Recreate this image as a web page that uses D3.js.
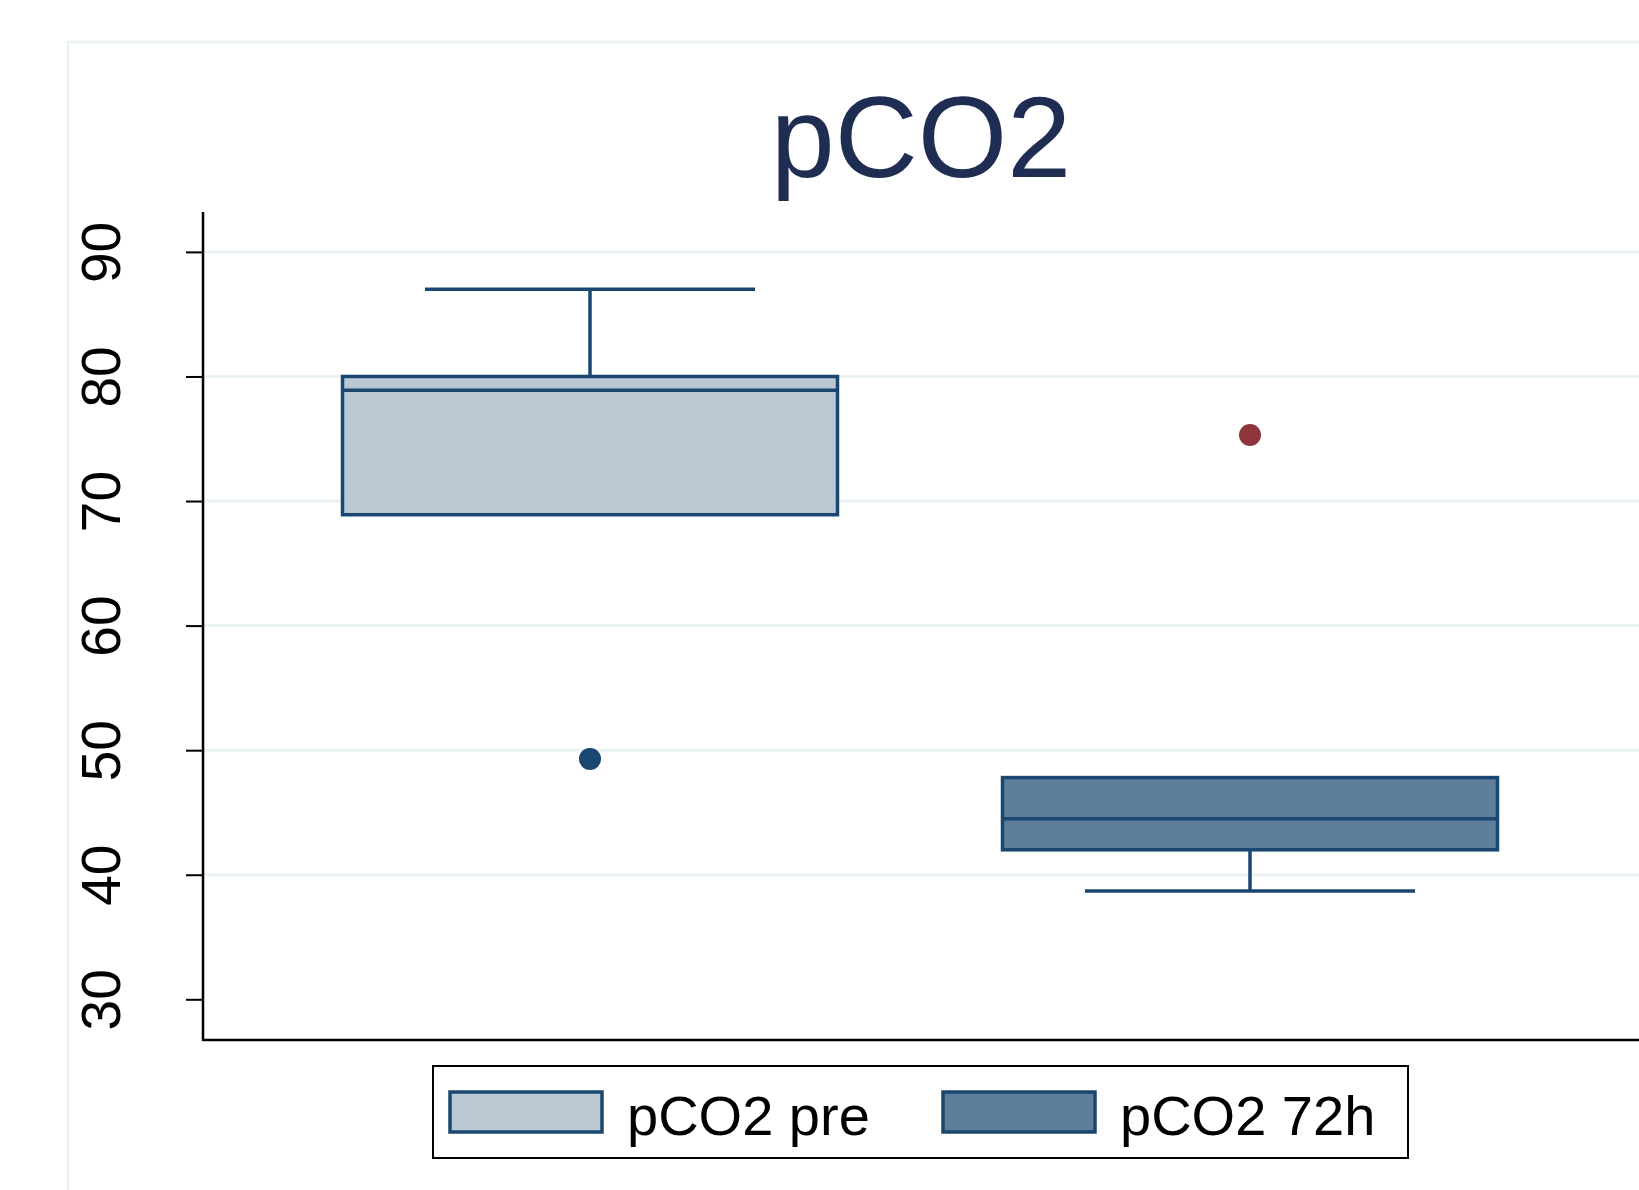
<!DOCTYPE html>
<html>
<head>
<meta charset="utf-8">
<script src="https://cdn.jsdelivr.net/npm/d3@7"></script>
<style>
  body { margin: 0; background: #fff; }
  svg { display: block; font-family: "Liberation Sans", Arial, sans-serif; }
</style>
</head>
<body>
<svg id="chart"></svg>
<script>
// box plot data
var groups = ["pCO2 pre", "pCO2 72h"];
var whiskerLow = [69, 38.7];
var q1 = [68.9, 42.0];
var median = [78.9, 44.5];
var q3 = [80.0, 47.8];
var whiskerHigh = [87.0, 47.8];
var outliers = [49.3, 75.3];

var yTicks = [30, 40, 50, 60, 70, 80, 90];
var gridTicks = [40, 50, 60, 70, 80, 90];

var boxFill = ["#b9c8d3", "#5f7e99"];
var outlierColor = ["#1a476f", "#90353b"];
var navy = "#1a476f";

var width = 1639,
    height = 1190;

var svg = d3.select("#chart")
  .attr("width", width)
  .attr("height", height);

// outer region border (light)
svg.append("path")
  .attr("d", "M68," + height + " V42 H" + width)
  .attr("fill", "none")
  .attr("stroke", "#eaf2f3")
  .attr("stroke-width", 2.5);

var plot = { left: 203, right: width, top: 212, bottom: 1040 };

var y = d3.scaleLinear()
  .domain([30, 90])
  .range([999.3, 251.9]);

var x = d3.scaleBand()
  .domain(groups)
  .range([260, 1580])
  .paddingInner(0.25)
  .paddingOuter(0.125);

// gridlines
svg.append("g")
    .attr("class", "grid")
  .selectAll("line")
  .data(gridTicks)
  .enter().append("line")
    .attr("x1", plot.left)
    .attr("x2", plot.right)
    .attr("y1", function(d) { return y(d); })
    .attr("y2", function(d) { return y(d); })
    .attr("stroke", "#eaf2f3")
    .attr("stroke-width", 3);

// title
svg.append("text")
  .attr("x", 921)
  .attr("y", 177)
  .attr("text-anchor", "middle")
  .attr("font-size", 115)
  .attr("fill", "#1f2d52")
  .text("pCO2");

// y axis
var yAxis = d3.axisLeft(y)
  .tickValues(yTicks)
  .tickSize(17)
  .tickFormat(d3.format("d"));

var gy = svg.append("g")
  .attr("transform", "translate(" + plot.left + ",0)")
  .call(yAxis);

gy.select(".domain").remove();
gy.selectAll(".tick line")
  .attr("stroke", "#000")
  .attr("stroke-width", 2);
gy.selectAll(".tick text")
  .attr("x", null)
  .attr("dy", null)
  .attr("transform", "translate(-83,0) rotate(-90)")
  .attr("text-anchor", "middle")
  .attr("font-size", 55)
  .attr("fill", "#000");

svg.append("line")
  .attr("x1", plot.left).attr("x2", plot.left)
  .attr("y1", plot.top).attr("y2", plot.bottom + 1)
  .attr("stroke", "#000")
  .attr("stroke-width", 2.5);

svg.append("line")
  .attr("x1", plot.left).attr("x2", plot.right)
  .attr("y1", plot.bottom).attr("y2", plot.bottom)
  .attr("stroke", "#000")
  .attr("stroke-width", 2.5);

// boxes
var boxes = groups.map(function(g, i) {
  return { name: g, lo: whiskerLow[i], q1: q1[i], med: median[i], q3: q3[i], hi: whiskerHigh[i],
           out: outliers[i], fill: boxFill[i], outColor: outlierColor[i] };
});

var bw = x.bandwidth();
var capW = bw * 2 / 3;
var sw = 3.5;

var bg = svg.append("g")
    .attr("class", "boxes")
  .selectAll("g")
  .data(boxes)
  .enter().append("g");

// whiskers
bg.append("line")
  .attr("x1", function(d) { return x(d.name) + bw / 2; })
  .attr("x2", function(d) { return x(d.name) + bw / 2; })
  .attr("y1", function(d) { return y(d.q3); })
  .attr("y2", function(d) { return y(d.hi); })
  .attr("stroke", navy).attr("stroke-width", sw);
bg.append("line")
  .attr("x1", function(d) { return x(d.name) + bw / 2; })
  .attr("x2", function(d) { return x(d.name) + bw / 2; })
  .attr("y1", function(d) { return y(d.q1); })
  .attr("y2", function(d) { return y(d.lo); })
  .attr("stroke", navy).attr("stroke-width", sw);

// caps
bg.filter(function(d) { return d.hi > d.q3; }).append("line")
  .attr("x1", function(d) { return x(d.name) + (bw - capW) / 2; })
  .attr("x2", function(d) { return x(d.name) + (bw + capW) / 2; })
  .attr("y1", function(d) { return y(d.hi); })
  .attr("y2", function(d) { return y(d.hi); })
  .attr("stroke", navy).attr("stroke-width", sw);
bg.filter(function(d) { return d.lo < d.q1; }).append("line")
  .attr("x1", function(d) { return x(d.name) + (bw - capW) / 2; })
  .attr("x2", function(d) { return x(d.name) + (bw + capW) / 2; })
  .attr("y1", function(d) { return y(d.lo); })
  .attr("y2", function(d) { return y(d.lo); })
  .attr("stroke", navy).attr("stroke-width", sw);

bg.append("rect")
  .attr("x", function(d) { return x(d.name); })
  .attr("width", bw)
  .attr("y", function(d) { return y(d.q3); })
  .attr("height", function(d) { return y(d.q1) - y(d.q3); })
  .attr("fill", function(d) { return d.fill; })
  .attr("stroke", navy)
  .attr("stroke-width", sw);

bg.append("line")
  .attr("x1", function(d) { return x(d.name); })
  .attr("x2", function(d) { return x(d.name) + bw; })
  .attr("y1", function(d) { return y(d.med); })
  .attr("y2", function(d) { return y(d.med); })
  .attr("stroke", navy).attr("stroke-width", sw);

bg.append("circle")
  .attr("cx", function(d) { return x(d.name) + bw / 2; })
  .attr("cy", function(d) { return y(d.out); })
  .attr("r", 11)
  .attr("fill", function(d) { return d.outColor; });

// legend
var legend = svg.append("g").attr("class", "legend");
legend.append("rect")
  .attr("x", 433).attr("y", 1066)
  .attr("width", 975).attr("height", 92)
  .attr("fill", "#fff")
  .attr("stroke", "#000")
  .attr("stroke-width", 2);

var keyX = [450, 943];
var items = legend.selectAll("g.item")
  .data(boxes)
  .enter().append("g")
    .attr("class", "item")
    .attr("transform", function(d, i) { return "translate(" + keyX[i] + ",0)"; });

items.append("rect")
  .attr("x", 0).attr("y", 1092)
  .attr("width", 152).attr("height", 40)
  .attr("fill", function(d) { return d.fill; })
  .attr("stroke", navy)
  .attr("stroke-width", sw);

items.append("text")
  .attr("x", 177)
  .attr("y", 1135)
  .attr("font-size", 56)
  .attr("fill", "#000")
  .text(function(d) { return d.name; });
</script>
</body>
</html>
